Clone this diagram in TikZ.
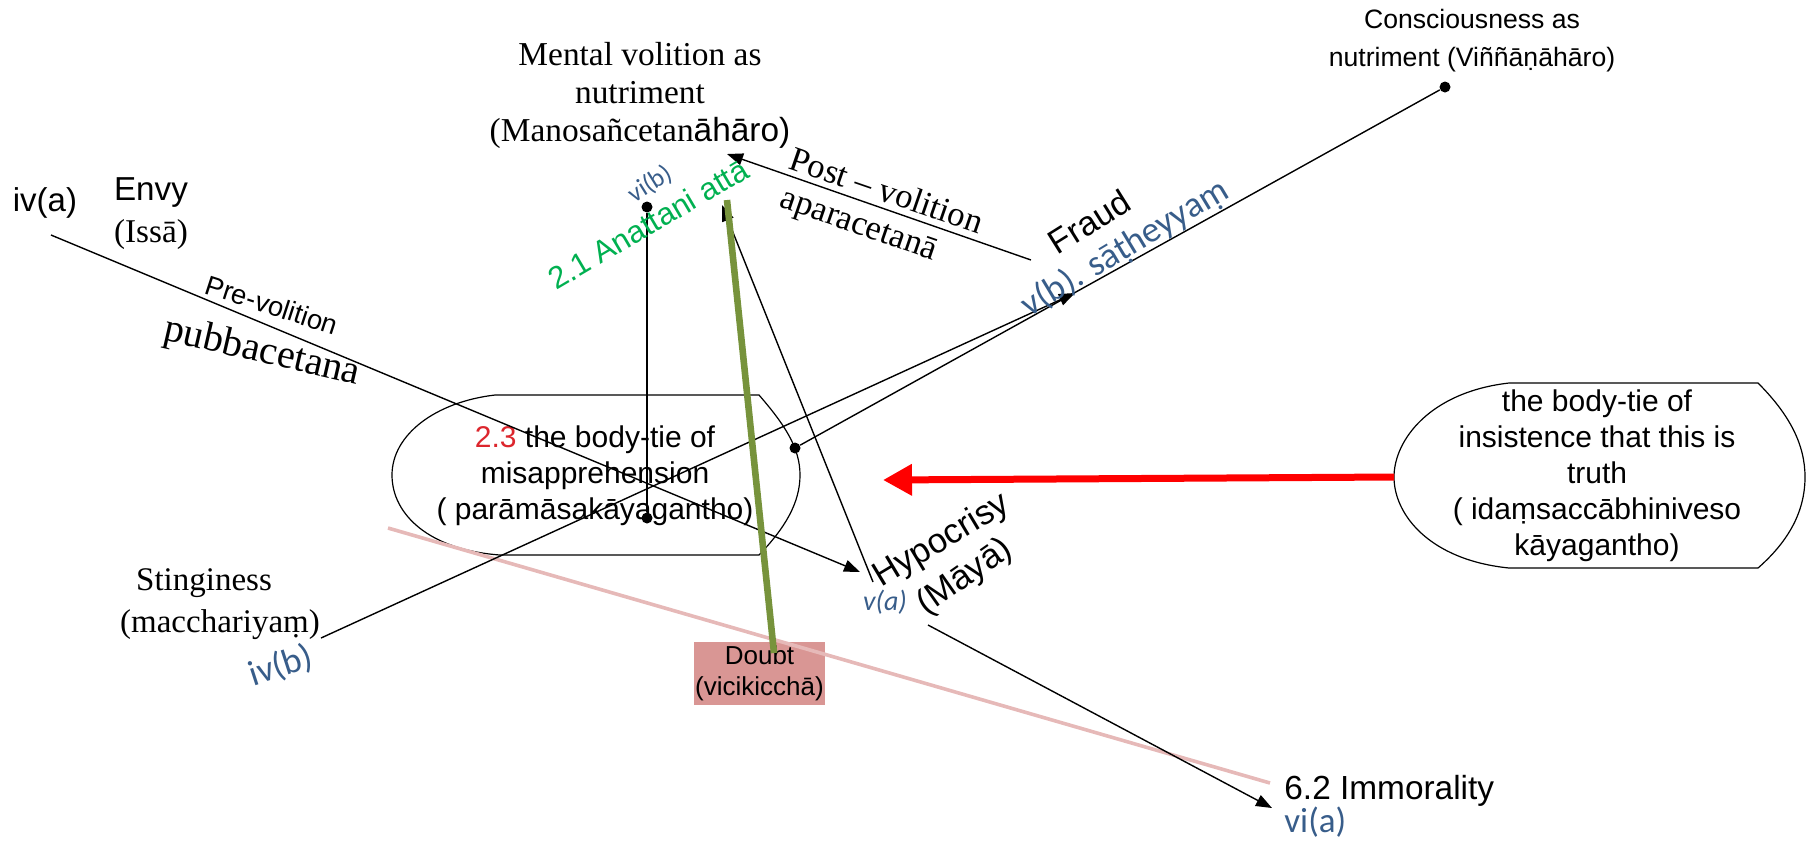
\documentclass[tikz,border=0pt]{standalone}
\usepackage{fontspec}
\setmainfont{Liberation Serif}
\setsansfont{Liberation Sans}
\newfontfamily\calib{Carlito}
\usetikzlibrary{arrows.meta}
\definecolor{lblblue}{RGB}{56,93,138}
\definecolor{txtgreen}{RGB}{0,176,80}
\definecolor{numred}{RGB}{220,38,45}
\definecolor{pinkline}{RGB}{230,185,184}
\definecolor{doubtfill}{RGB}{217,150,148}
\definecolor{olivegreen}{RGB}{119,147,60}
\newcommand{\fsz}[2]{\fontsize{#1}{#2}\selectfont}
\begin{document}
\begin{tikzpicture}[x=0.5pt,y=-0.5pt,
  conn/.style={draw=black, line width=0.7pt},
  tipped/.style={conn, -{Triangle[length=8pt,width=6pt]}},
  dotnode/.style={circle, fill=black, inner sep=0pt, minimum size=5.5pt},
  lbl/.style={inner sep=0pt, align=center},
  shapeline/.style={draw=black, line width=0.6pt},
  bluelbl/.style={lbl, text=lblblue},
]
\useasboundingbox (0,0) rectangle (1814,843);

% ---- shapes ----
\draw[shapeline] (495,395) -- (759,395) .. controls (785,425) and (800,448) .. (800,475) coordinate (lsE)
  .. controls (800,503) and (785,528) .. (759,555) -- (500,555)
  .. controls (430,550) and (392,515) .. (392,475) coordinate (lsW)
  .. controls (392,435) and (435,402) .. (495,395) -- cycle;
\node[lbl, font=\sffamily\fsz{15}{18}] (misapp) at (595,476)
  {{\color{numred}2.3} the body-tie of\\misapprehension\\( parāmāsakāyagantho)};

\draw[shapeline] (1509,383) -- (1758,383) .. controls (1790,415) and (1805,445) .. (1805,477) coordinate (rsE)
  .. controls (1805,510) and (1790,540) .. (1758,568) -- (1509,568)
  .. controls (1430,560) and (1394,515) .. (1394,477) coordinate (rsW)
  .. controls (1394,440) and (1430,392) .. (1509,383) -- cycle;
\node[lbl, font=\sffamily\fsz{15}{18}] (insist) at (1597,476)
  {the body-tie of\\insistence that this is\\truth\\( idaṃsaccābhiniveso\\kāyagantho)};

% ---- doubt box ----
\node[lbl, fill=doubtfill, minimum width=65.5pt, minimum height=31.5pt, font=\sffamily\fsz{13}{15.5}] (doubt) at (759.5,673.5)
  {Doubt\\(vicikicchā)};

% ---- coordinates ----
\coordinate (envyS) at (51,235);
\coordinate (hypoTip) at (860,572);
\coordinate (stingS) at (321,638);
\coordinate (fraudTip) at (1075,293);
\coordinate (postS) at (1031,260);
\coordinate (postTip) at (727,154);
\coordinate (hypS) at (873,582);
\coordinate (hypTip) at (722,205);
\coordinate (immS) at (928,625);
\coordinate (immTip) at (1272,808);
\coordinate (pinkS) at (388,528);
\coordinate (pinkE) at (1270,783);
\coordinate (greenS) at (727,200);
\coordinate (greenE) at (774,653);
\coordinate (redTip) at (883,480);

\node[dotnode] (consDot) at (1445,87) {};
\node[dotnode] (lowDot) at (795,448) {};
\node[dotnode] (vibDot) at (647,207) {};
\node[dotnode] (midDot) at (647,518) {};

% ---- connectors ----
\draw[pinkline, line width=1.8pt] (pinkS) -- (pinkE);
\draw[tipped] (envyS) -- (hypoTip);
\draw[tipped] (stingS) -- (fraudTip);
\draw[conn] (consDot) -- (lowDot);
\draw[conn] (vibDot) -- (midDot);
\draw[tipped] (postS) -- (postTip);
\draw[tipped] (hypS) -- (hypTip);
\draw[tipped] (immS) -- (immTip);
\draw[olivegreen, line width=3.3pt] (greenS) -- (greenE);
\draw[red, line width=3.5pt, -{Triangle[length=14.5pt,width=15pt]}] (rsW) -- (redTip);

% ---- labels ----
\node[lbl, font=\rmfamily\fsz{16.7}{19}] (mental) at (640,95)
  {Mental volition as\\nutriment\\(Manosañcetan{\sffamily āhāro)}};
\node[lbl, font=\sffamily\fsz{13.3}{19}] (consc) at (1472,41)
  {Consciousness as\\nutriment (Viññāṇāhāro)};
\node[lbl, font=\sffamily\fsz{16.5}{19}] (iva) at (45,203) {iv(a)};
\node[lbl, font=\sffamily\fsz{16.6}{19}] (envy) at (151,193) {Envy};
\node[lbl, font=\rmfamily\fsz{16.6}{19}] (issa) at (151,235) {(Issā)};
\node[lbl, font=\sffamily\fsz{13.7}{16}, rotate=-18] (prevol) at (272,305) {Pre-volition};
\node[lbl, font=\rmfamily\fsz{20}{22}, rotate=-13] (pubba) at (262,353) {pubbacetana};
\node[bluelbl, font=\calib\fsz{13}{15}, rotate=32] (vib) at (650,184) {vi(b)};
\node[lbl, text=txtgreen, font=\sffamily\fsz{15.5}{18}, rotate=30.5] (anatta) at (648,224) {2.1 Anattani attā};
\node[lbl, font=\rmfamily\fsz{17.3}{20}, rotate=-19] (postvol) at (887,190) {Post – volition};
\node[lbl, font=\rmfamily\fsz{17.3}{20}, rotate=-19] (apara) at (858,227) {aparacetanā};
\node[lbl, font=\sffamily\fsz{17}{20}, rotate=32] (fraud) at (1089,222) {Fraud};
\node[bluelbl, font=\calib\fsz{18}{20}, rotate=31] (vbsat) at (1125,248) {v(b). sāṭheyyaṃ};
\node[lbl, font=\sffamily\fsz{17.3}{20}, rotate=31] (hypoc) at (942,541) {Hypocrisy};
\node[lbl, font=\sffamily\fsz{17.3}{20}, rotate=35] (maya) at (965,577) {(Māyā)};
\node[bluelbl, font=\calib\itshape\fsz{14}{16}] (va) at (885,602) {v(a)};
\node[lbl, font=\rmfamily\fsz{16.5}{19}] (sting) at (204,583) {Stinginess};
\node[lbl, font=\rmfamily\fsz{16.5}{19}] (macch) at (220,625) {(macchariyaṃ)};
\node[bluelbl, font=\calib\fsz{18}{20}, rotate=18] (ivb) at (281,666) {iv(b)};
\node[lbl, anchor=west, font=\sffamily\fsz{16.7}{19}] (immor) at (1284,791) {6.2 Immorality};
\node[bluelbl, anchor=west, font=\calib\fsz{17.5}{20}] (via) at (1284,822) {vi(a)};
\end{tikzpicture}
\end{document}
